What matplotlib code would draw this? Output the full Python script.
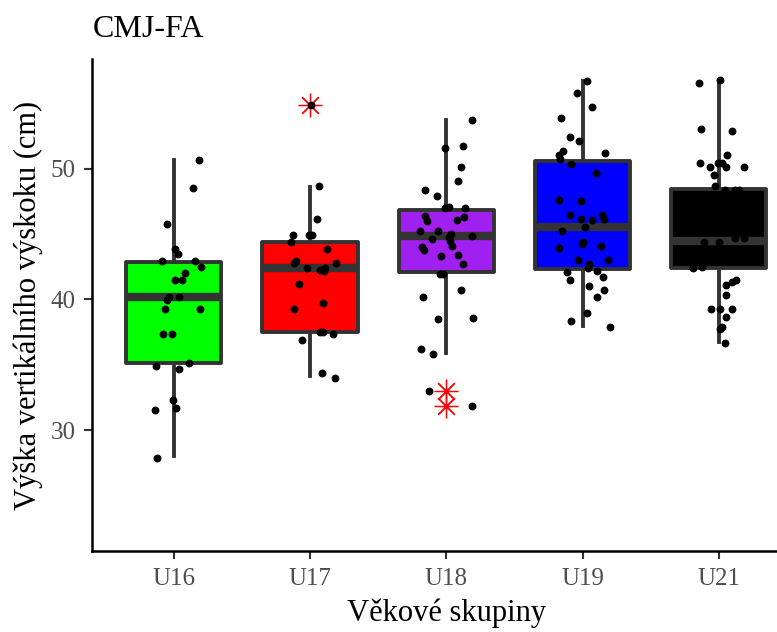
#!/usr/bin/env python3
"""
CMJ-FA: výška vertikálního výskoku podle věkových skupin (boxplot + jitter)
"""

import numpy as np
import matplotlib
matplotlib.use('Agg')
import matplotlib.pyplot as plt

plt.rcParams['font.family'] = ['Liberation Serif', 'DejaVu Serif']

# kategorie a barvy
groups = ['U16', 'U17', 'U18', 'U19', 'U21']
fill_colors = ['#00FF00', '#FF0000', '#A020F0', '#0000FF', '#000000']

# statistiky boxplotu: dolní vous, Q1, medián, Q3, horní vous
whis_lo = [28.0, 34.15, 35.93, 37.96, 36.74]
q1 = [35.17, 37.53, 42.08, 42.29, 42.37]
medians = [40.2, 42.42, 44.83, 45.52, 44.43]
q3 = [42.88, 44.40, 46.85, 50.56, 48.47]
whis_hi = [50.63, 48.60, 53.69, 56.72, 56.74]
outliers = [[], [54.89], [33.0, 31.83], [], []]

# jednotlivá měření (cm) a jejich horizontální posun (jitter)
u16_vals = [50.63, 48.52, 45.78, 43.82, 43.49, 42.93, 42.93, 42.49, 42.01, 41.45,
            41.45, 40.18, 39.97, 40.18, 39.24, 39.24, 37.33, 37.33, 34.94, 35.14,
            34.68, 32.29, 31.73, 31.55, 27.86]
u16_jit = [0.188, 0.139, -0.049, 0.012, 0.029, -0.086, 0.153, 0.200, 0.085, 0.012,
           0.061, -0.032, -0.052, 0.041, -0.067, 0.190, -0.076, -0.012, -0.128, 0.109,
           0.039, -0.005, 0.014, -0.137, -0.120]

u17_vals = [54.89, 48.63, 46.16, 44.89, 44.89, 44.94, 44.37, 43.84, 42.93, 42.77,
            42.77, 42.39, 42.21, 42.39, 42.19, 41.20, 39.72, 39.26, 37.53, 37.53,
            37.33, 36.87, 34.40, 34.02]
u17_jit = [0.007, 0.069, 0.051, -0.125, -0.010, 0.015, -0.142, 0.123, -0.100, -0.115,
           0.191, -0.019, 0.071, 0.108, 0.106, -0.081, 0.098, -0.115, 0.071, 0.093,
           0.167, -0.056, 0.086, 0.184]

u18_vals = [53.69, 51.76, 51.55, 50.08, 49.08, 48.37, 47.89, 46.97, 47.08, 46.97,
            46.36, 45.95, 46.31, 46.05, 45.24, 45.21, 44.98, 44.76, 44.86, 44.60,
            44.43, 44.05, 43.97, 43.76, 43.31, 43.38, 42.67, 41.93, 41.93, 40.71,
            40.18, 38.53, 38.60, 36.24, 35.85, 33.00, 31.83]
u18_jit = [0.186, 0.125, -0.007, 0.106, 0.088, -0.159, -0.070, -0.010, 0.018, 0.135,
           -0.159, -0.142, 0.132, 0.079, -0.195, -0.063, 0.037, 0.018, 0.186, -0.107,
           0.029, 0.042, -0.181, -0.162, -0.037, 0.088, 0.125, -0.046, -0.024, 0.106,
           -0.169, -0.063, 0.196, -0.186, -0.098, -0.125, 0.186]

u19_vals = [56.72, 55.78, 54.68, 53.87, 52.39, 52.11, 51.32, 51.02, 50.69, 51.20,
            50.36, 49.64, 47.61, 47.50, 46.41, 46.16, 46.05, 46.41, 46.11, 45.52,
            45.21, 44.37, 44.25, 43.92, 44.05, 43.03, 43.03, 42.67, 42.37, 42.19,
            42.11, 41.47, 41.73, 41.02, 40.74, 40.18, 38.98, 38.34, 37.89]
u19_jit = [0.031, -0.040, 0.068, -0.155, -0.094, -0.023, -0.145, -0.173, -0.162, 0.163,
           -0.084, 0.102, -0.173, -0.013, -0.094, -0.013, 0.068, 0.146, 0.156, 0.016,
           -0.148, 0.004, -0.006, -0.173, 0.139, -0.030, 0.190, 0.048, 0.038, 0.104,
           -0.111, -0.092, 0.148, 0.048, 0.156, 0.109, 0.031, -0.084, 0.200]

u21_vals = [56.54, 56.74, 53.03, 52.88, 51.02, 50.46, 50.46, 50.46, 50.10, 50.15,
            50.10, 49.52, 48.70, 48.32, 48.32, 48.32, 44.66, 44.66, 44.40, 44.40,
            42.37, 42.44, 41.07, 41.45, 41.30, 40.36, 39.29, 39.29, 39.29, 38.65,
            37.89, 37.76, 36.66]
u21_jit = [-0.145, 0.012, -0.128, 0.095, 0.059, -0.135, -0.007, 0.022, -0.066, 0.051,
           0.186, -0.037, -0.027, 0.044, 0.120, 0.149, 0.122, 0.184, -0.106, 0.004,
           -0.186, -0.125, 0.054, 0.129, 0.100, 0.051, -0.057, 0.007, 0.095, 0.051,
           0.022, 0.007, 0.044]

values = [u16_vals, u17_vals, u18_vals, u19_vals, u21_vals]
jitters = [u16_jit, u17_jit, u18_jit, u19_jit, u21_jit]


def plot_chart():
    fig = plt.figure(figsize=(7.77, 6.32), dpi=100)
    # panel přesahuje pravý okraj obrázku (originál je oříznutý)
    ax = fig.add_axes([92 / 777, 1 - 551 / 632, 708.5 / 777, (551 - 59.3) / 632])

    positions = np.arange(1, len(groups) + 1)
    stats = []
    for i in range(len(groups)):
        stats.append(dict(whislo=whis_lo[i], q1=q1[i], med=medians[i], q3=q3[i],
                          whishi=whis_hi[i], fliers=outliers[i]))

    edge = '#333333'
    bp = ax.bxp(stats, positions=positions, widths=0.7, patch_artist=True,
                showcaps=False,
                boxprops=dict(edgecolor=edge, linewidth=2.8),
                whiskerprops=dict(color=edge, linewidth=2.8),
                medianprops=dict(color=edge, linewidth=6, solid_capstyle='butt'),
                flierprops=dict(marker=(8, 2, 0), markersize=17, markeredgecolor='red',
                                markerfacecolor='red', markeredgewidth=0.9,
                                linestyle='none'),
                zorder=2)
    for patch, c in zip(bp['boxes'], fill_colors):
        patch.set_facecolor(c)
        patch.set_joinstyle('round')

    # jitter body
    for i, (vals, jit) in enumerate(zip(values, jitters)):
        xs = positions[i] + np.array(jit)
        ax.scatter(xs, vals, s=32, color='black', zorder=3, linewidths=0)

    ax.set_xlim(0.4, 5.6)
    ax.set_ylim(20.76, 58.35)
    ax.set_xticks(positions)
    ax.set_xticklabels(groups)
    ax.set_yticks([30, 40, 50])

    for s in ['top', 'right']:
        ax.spines[s].set_visible(False)
    for s in ['left', 'bottom']:
        ax.spines[s].set_linewidth(1.8)
        ax.spines[s].set_color('black')

    ax.tick_params(axis='both', length=6, width=1.5, color='#333333',
                   labelcolor='#4D4D4D', labelsize=18, pad=6)

    ax.set_xlabel('Věkové skupiny', fontsize=22, color='black', labelpad=6)
    ax.set_ylabel('Výška vertikálního výskoku (cm)', fontsize=22, color='black', labelpad=5)

    fig.text(93 / 777, 1 - 37 / 632, 'CMJ-FA', fontsize=23, color='black',
             ha='left', va='baseline')

    fig.savefig('out.png', dpi=100)


if __name__ == "__main__":
    plot_chart()
